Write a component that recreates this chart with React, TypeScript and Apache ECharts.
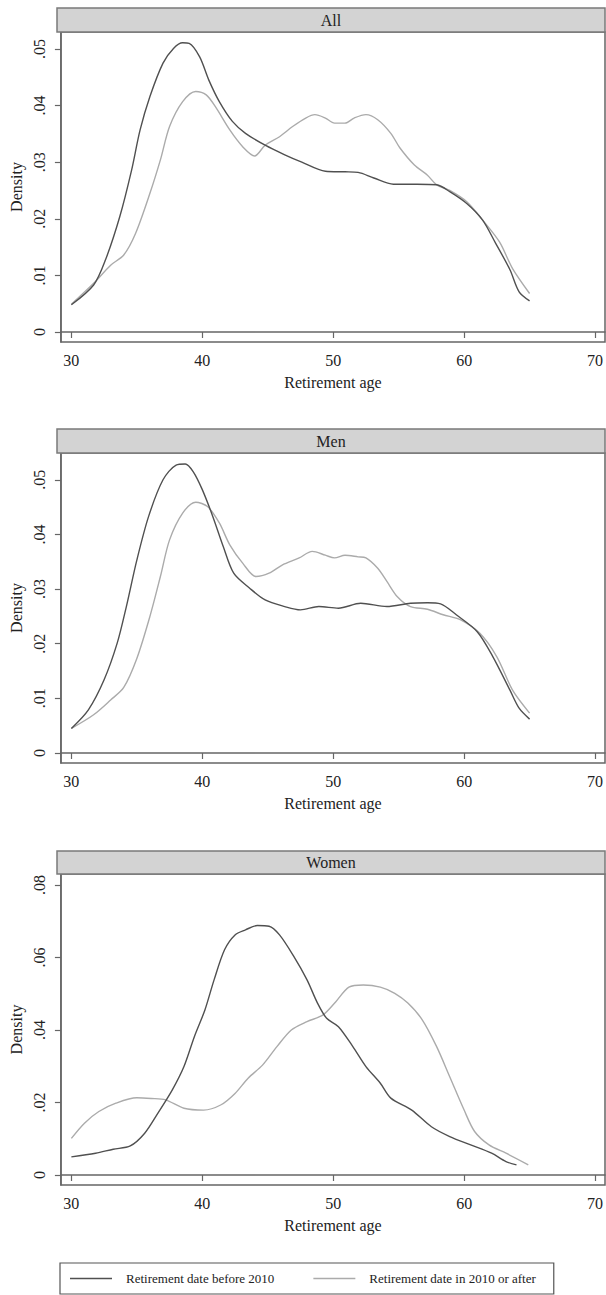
import React, { useEffect, useRef } from "react";
import * as echarts from "echarts";

// ---------- data ----------
const panelTitles = ["All", "Men", "Women"];
const seriesNames = ["Retirement date before 2010", "Retirement date in 2010 or after"];
const xTicks = [30, 40, 50, 60, 70];
const yTicksAllMen = [0, 0.01, 0.02, 0.03, 0.04, 0.05];
const yTicksWomen = [0, 0.02, 0.04, 0.06, 0.08];

const allBeforeAge = [30, 31.7, 32.6, 33.7, 34.6, 35.25, 36.0, 37.0, 37.8, 38.5, 39.0, 39.8, 40.5, 41.3, 42.3, 43.3, 44.8, 46.3, 47.6, 49.4, 50.9, 51.9, 53.1, 54.6, 56.4, 57.9, 58.9, 60.2, 61.4, 62.4, 63.5, 64.2, 65.0];
const allBeforeVal = [0.0048, 0.0083, 0.0127, 0.0204, 0.0286, 0.0357, 0.0416, 0.0475, 0.0501, 0.0511, 0.051, 0.0486, 0.0445, 0.0407, 0.0372, 0.0351, 0.033, 0.0313, 0.03, 0.0284, 0.0283, 0.0282, 0.0272, 0.0261, 0.0261, 0.026, 0.0248, 0.0227, 0.0198, 0.0157, 0.011, 0.0071, 0.0055];

const allAfterAge = [30, 31.7, 33.0, 34.0, 34.9, 36.0, 36.8, 37.5, 38.5, 39.5, 40.3, 41.0, 42.1, 43.1, 44.0, 44.8, 45.9, 46.9, 47.9, 48.6, 49.4, 50.1, 50.9, 51.6, 52.5, 53.4, 54.4, 55.1, 56.2, 57.2, 57.9, 58.9, 60.2, 61.4, 62.7, 63.7, 65.0];
const allAfterVal = [0.0049, 0.0086, 0.0118, 0.0136, 0.0174, 0.0245, 0.0304, 0.0363, 0.0407, 0.0425, 0.0419, 0.0398, 0.0357, 0.0327, 0.0311, 0.033, 0.0345, 0.0363, 0.0378, 0.0384, 0.0378, 0.0369, 0.0369, 0.0378, 0.0384, 0.0375, 0.0351, 0.0325, 0.0295, 0.0277, 0.026, 0.025, 0.023, 0.0198, 0.0159, 0.0112, 0.0068];

const menBeforeAge = [30, 31.3, 32.5, 33.5, 34.2, 35.0, 35.9, 37.0, 38.0, 38.7, 39.3, 40.0, 40.8, 41.6, 42.4, 43.6, 44.8, 46.3, 47.5, 48.9, 50.4, 52.1, 54.1, 55.9, 57.2, 58.2, 59.4, 61.0, 62.2, 63.5, 64.2, 65.0];
const menBeforeVal = [0.0045, 0.0079, 0.0134, 0.0201, 0.0268, 0.0353, 0.0433, 0.05, 0.0527, 0.0529, 0.0515, 0.0482, 0.0433, 0.0378, 0.0329, 0.0302, 0.028, 0.0268, 0.0262, 0.0268, 0.0265, 0.0274, 0.0268, 0.0274, 0.0275, 0.0273, 0.0253, 0.0222, 0.0176, 0.0115, 0.0082, 0.0062];

const menAfterAge = [30, 31.7, 33.0, 34.0, 35.0, 36.0, 36.8, 37.5, 38.5, 39.5, 40.4, 41.3, 42.1, 43.1, 44.1, 45.1, 46.1, 47.4, 48.4, 49.4, 50.1, 50.9, 51.9, 52.5, 53.4, 54.1, 54.9, 55.9, 57.2, 58.4, 59.7, 61.2, 62.5, 63.7, 65.0];
const menAfterVal = [0.0045, 0.007, 0.0097, 0.012, 0.0173, 0.025, 0.0323, 0.039, 0.0439, 0.0459, 0.0451, 0.0421, 0.0381, 0.0347, 0.0323, 0.0329, 0.0344, 0.0357, 0.0369, 0.0362, 0.0357, 0.0362, 0.0359, 0.0357, 0.0338, 0.0314, 0.0286, 0.0268, 0.0263, 0.0253, 0.0244, 0.0219, 0.0176, 0.0115, 0.0073];

const womenBeforeAge = [30, 31.85, 33.2, 34.5, 35.6, 36.6, 37.7, 38.6, 39.4, 40.2, 40.9, 41.7, 42.5, 43.3, 44.2, 45.1, 45.9, 47.0, 48.0, 48.8, 49.5, 50.4, 51.5, 52.5, 53.6, 54.4, 56.0, 57.5, 58.9, 60.5, 62.1, 63.2, 64.0];
const womenBeforeVal = [0.005, 0.006, 0.0071, 0.008, 0.0115, 0.017, 0.0234, 0.0299, 0.0382, 0.0455, 0.0538, 0.0621, 0.0662, 0.0676, 0.0688, 0.0686, 0.0662, 0.0602, 0.0538, 0.0474, 0.0432, 0.0409, 0.0354, 0.0299, 0.0253, 0.0212, 0.0179, 0.0133, 0.0106, 0.0083, 0.006, 0.0037, 0.0028];

const womenAfterAge = [30, 31.0, 32.1, 33.4, 35.0, 36.1, 37.2, 38.6, 40.1, 41.4, 42.5, 43.5, 44.6, 45.7, 46.8, 48.0, 49.2, 50.2, 51.2, 52.3, 53.6, 54.7, 55.7, 56.8, 57.9, 58.9, 60.0, 60.8, 61.9, 63.2, 64.9];
const womenAfterVal = [0.0101, 0.0143, 0.0175, 0.0198, 0.0213, 0.0211, 0.0207, 0.0184, 0.0179, 0.0193, 0.0225, 0.0267, 0.0303, 0.0354, 0.04, 0.0423, 0.0441, 0.0478, 0.0518, 0.0524, 0.0518, 0.0501, 0.0474, 0.0428, 0.0354, 0.0271, 0.0179, 0.012, 0.0083, 0.006, 0.0028];

const panelData = [
  [allBeforeAge, allBeforeVal, allAfterAge, allAfterVal],
  [menBeforeAge, menBeforeVal, menAfterAge, menAfterVal],
  [womenBeforeAge, womenBeforeVal, womenAfterAge, womenAfterVal],
];
const panelYTicks = [yTicksAllMen, yTicksAllMen, yTicksWomen];

// ---------- layout ----------
const FONT = "Liberation Serif";
const FRAME = "#666666";
const TEXT = "#222222";
const DARK = "#505050";
const LIGHT = "#ababab";
const layout = [
  { header: 8, top: 32, height: 310, yMin: -0.00177, yMax: 0.053 },
  { header: 429, top: 453, height: 310, yMin: -0.00183, yMax: 0.0549 },
  { header: 851, top: 874, height: 311, yMin: -0.00276, yMax: 0.083 },
];
const PLOT_LEFT = 57;
const PLOT_RIGHT = 605;

const pairs = (xs: number[], ys: number[]) => xs.map((x, i) => [x, ys[i]]);
const fmtY = (v: number) => (v === 0 ? "0" : v.toFixed(2).replace(/^0/, ""));

export default function App() {
  const ref = useRef<HTMLDivElement>(null);
  useEffect(() => {
    if (!ref.current) return;
    const chart = echarts.init(ref.current, undefined, { renderer: "svg" });

    const series: any[] = [];
    panelData.forEach((d, i) => {
      series.push({
        type: "line",
        name: seriesNames[0],
        xAxisIndex: i,
        yAxisIndex: i,
        data: pairs(d[0], d[1]),
        symbol: "none",
        smooth: 0.3,
        lineStyle: { color: DARK, width: 1.4 },
        itemStyle: { color: DARK },
        z: 3,
      });
      series.push({
        type: "line",
        name: seriesNames[1],
        xAxisIndex: i,
        yAxisIndex: i,
        data: pairs(d[2], d[3]),
        symbol: "none",
        smooth: 0.3,
        lineStyle: { color: LIGHT, width: 1.4 },
        itemStyle: { color: LIGHT },
        z: 2,
      });
    });

    const graphic: any[] = [];
    layout.forEach((l, i) => {
      graphic.push({
        type: "rect",
        shape: { x: PLOT_LEFT, y: l.header, width: PLOT_RIGHT - PLOT_LEFT, height: l.top - l.header },
        style: { fill: "#d3d3d3", stroke: "#7a7a7a", lineWidth: 1.5 },
        z: 10,
      });
      graphic.push({
        type: "text",
        x: (PLOT_LEFT + PLOT_RIGHT) / 2,
        y: (l.header + l.top) / 2,
        style: {
          text: panelTitles[i],
          fontFamily: FONT,
          fontSize: 16,
          fill: TEXT,
          align: "center",
          verticalAlign: "middle",
        },
        z: 11,
      });
    });

    const option: any = {
      animation: false,
      backgroundColor: "#ffffff",
      textStyle: { fontFamily: FONT },
      grid: layout.map((l) => ({
        left: PLOT_LEFT,
        width: PLOT_RIGHT - PLOT_LEFT,
        top: l.top,
        height: l.height,
        show: true,
        borderColor: FRAME,
        borderWidth: 1.5,
        backgroundColor: "#ffffff",
      })),
      xAxis: layout.map((l, i) => ({
        type: "value",
        gridIndex: i,
        min: 29.2,
        max: 70.76,
        name: "Retirement age",
        nameLocation: "middle",
        nameGap: 32,
        nameTextStyle: { fontFamily: FONT, fontSize: 16, color: TEXT },
        axisLine: { show: true, lineStyle: { color: FRAME, width: 1.5 } },
        axisTick: { show: true, length: 6, customValues: xTicks, lineStyle: { color: FRAME, width: 1.2 } },
        axisLabel: { customValues: xTicks, margin: 10, fontFamily: FONT, fontSize: 16, color: TEXT },
        splitLine: { show: false },
      })),
      yAxis: layout.map((l, i) => ({
        type: "value",
        gridIndex: i,
        min: l.yMin,
        max: l.yMax,
        name: "Density",
        nameLocation: "middle",
        nameRotate: 90,
        nameGap: 31,
        nameTextStyle: { fontFamily: FONT, fontSize: 16, color: TEXT },
        axisLine: { show: true, lineStyle: { color: FRAME, width: 1.5 } },
        axisTick: { show: true, length: 6, customValues: panelYTicks[i], lineStyle: { color: FRAME, width: 1.2 } },
        axisLabel: {
          customValues: panelYTicks[i],
          rotate: 90,
          margin: 13,
          fontFamily: FONT,
          fontSize: 16,
          color: TEXT,
          formatter: (v: number) => fmtY(v),
        },
        splitLine: { show: false },
      })),
      legend: {
        show: true,
        left: 60,
        top: 1263,
        orient: "horizontal",
        data: seriesNames,
        icon: "rect",
        itemWidth: 42,
        itemHeight: 1.5,
        itemGap: 39,
        padding: [9, 18, 9, 10],
        borderColor: "#555555",
        borderWidth: 1.2,
        backgroundColor: "#ffffff",
        selectedMode: false,
        textStyle: { fontFamily: FONT, fontSize: 13, color: TEXT, padding: [0, 0, 0, 9] },
      },
      graphic,
      series,
    };
    chart.setOption(option);
    return () => chart.dispose();
  }, []);

  return (
    <div
      ref={ref}
      style={{ position: "absolute", left: 0, top: 0, width: 606, height: 1295, background: "#fff" }}
    />
  );
}
